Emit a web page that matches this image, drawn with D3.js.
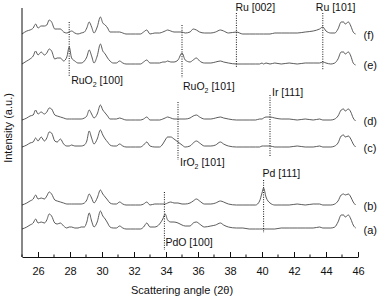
<!DOCTYPE html>
<html>
<head>
<meta charset="utf-8">
<script src="https://cdn.jsdelivr.net/npm/d3@7"></script>
<style>
  body { margin: 0; background: #fff; }
  svg text { font-family: "Liberation Sans", Arial, sans-serif; fill: #111; }
</style>
</head>
<body>
<div id="chart"></div>
<script>
// scattering angle grid, 2θ in degrees
var theta = [
  25.0, 25.3, 25.5, 25.7, 25.85, 26.0, 26.2, 26.4, 26.55, 26.7,
  26.85, 27.05, 27.2, 27.4, 27.6, 27.8, 27.95, 28.1, 28.3, 28.5,
  28.7, 28.9, 29.05, 29.2, 29.35, 29.5, 29.7, 29.9, 30.05, 30.2,
  30.35, 30.5, 30.7, 30.9, 31.1, 31.3, 31.5, 31.8, 32.1, 32.4,
  32.6, 32.8, 33.0, 33.3, 33.6, 33.8, 33.95, 34.1, 34.3, 34.5,
  34.75, 35.0, 35.2, 35.5, 35.7, 35.9, 36.1, 36.4, 36.8, 37.1,
  37.4, 37.6, 37.9, 38.4, 38.8, 39.2, 39.6, 39.85, 40.0, 40.1,
  40.25, 40.5, 40.8, 41.2, 41.7, 42.2, 42.7, 43.2, 43.6, 43.8,
  44.0, 44.3, 44.55, 44.75, 44.95, 45.1, 45.2, 45.4, 45.55, 45.7, 45.85
];

var seriesNames = ["(a)", "(b)", "(c)", "(d)", "(e)", "(f)"];
// vertical stacking offset of each pattern (a.u.)
var offsets = [28, 52, 110, 137, 193, 223];

// intensities above each pattern's own baseline (a.u.)
var seriesA = [
  0, 2, 4, 6, 10, 6, 7, 6, 9, 15,
  13, 6, 5, 6, 3, 1, 2, 2, 1, 1,
  2, 2, 7, 16, 8, 2, 7, 18, 13, 10,
  6, 2, 1, 1, 3, 1, 0, 0, 0, 0,
  2, 6, 2, 2, 5, 10, 15, 9, 7, 7,
  6, 4, 3, 3, 6, 7, 5, 2, 3, 4,
  6, 4, 2, 1, 1, 0, 0, 0, 0, 0,
  0, 0, 0, 1, 1, 1, 1, 1, 2, 1,
  1, 1, 2, 7, 14, 14, 12, 14, 10, 4, 1
];
var seriesB = [
  0, 2, 4, 6, 10, 6, 7, 6, 9, 13,
  11, 5, 4, 3, 2, 1, 1, 1, 1, 1,
  1, 2, 5, 11, 7, 2, 7, 15, 11, 8,
  5, 2, 1, 1, 3, 1, 0, 0, 0, 0,
  1, 3, 0, 1, 1, 1, 1, 2, 3, 2,
  2, 1, 1, 2, 4, 6, 4, 1, 1, 2,
  4, 3, 1, 0, 0, 0, 0, 4, 12, 17,
  8, 2, 0, 0, 0, 1, 0, 1, 1, 0,
  0, 0, 1, 4, 10, 11, 10, 11, 8, 3, 0
];
var seriesC = [
  0, 2, 4, 5, 9, 6, 10, 6, 9, 15,
  14, 6, 5, 8, 3, 1, 1, 2, 1, 1,
  1, 2, 6, 16, 9, 3, 8, 17, 12, 8,
  5, 2, 1, 1, 3, 1, 0, 0, 0, 0,
  2, 5, 1, 0, 0, 3, 7, 10, 10, 8,
  5, 2, 0, 1, 4, 6, 4, 1, 1, 2,
  5, 3, 1, 0, 0, 0, 0, 0, 1, 1,
  1, 1, 0, 0, 0, 1, 0, 0, 1, 0,
  0, 0, 1, 4, 11, 12, 10, 11, 8, 3, 0
];
var seriesD = [
  0, 2, 4, 5, 10, 6, 8, 6, 8, 12,
  11, 5, 4, 3, 2, 1, 1, 1, 1, 1,
  1, 2, 4, 10, 6, 2, 6, 15, 10, 7,
  4, 1, 1, 1, 2, 1, 0, 0, 0, 0,
  1, 3, 0, 0, 0, 1, 2, 3, 2, 1,
  1, 1, 1, 2, 4, 5, 3, 1, 1, 2,
  3, 2, 1, 0, 0, 0, 0, 1, 1, 2,
  3, 3, 2, 1, 1, 0, 1, 0, 1, 0,
  0, 0, 1, 4, 10, 11, 9, 11, 8, 2, -1
];
var seriesE = [
  0, 3, 5, 8, 13, 9, 12, 9, 11, 15,
  13, 5, 6, 6, 3, 7, 17, 6, 3, 1,
  1, 3, 7, 14, 8, 1, 8, 20, 13, 10,
  6, 3, 1, 1, 3, 1, 0, 0, 0, 0,
  2, 4, 1, 1, 1, 2, 2, 3, 2, 2,
  4, 11, 4, 2, 4, 6, 3, 1, 1, 2,
  3, 2, 1, 0, 0, 0, 0, 0, 1, 0,
  1, 0, 1, 0, 1, 0, 1, 1, 1, 2,
  1, 0, 1, 5, 12, 12, 10, 12, 8, 1, -1
];
var seriesF = [
  0, 3, 4, 6, 10, 6, 8, 8, 9, 14,
  12, 5, 5, 5, 2, 1, 2, 3, 1, 0,
  1, 2, 6, 12, 7, 1, 7, 17, 11, 9,
  6, 2, 2, 2, 2, 1, 0, 0, 0, 0,
  2, 4, 0, 1, 1, 2, 3, 4, 3, 2,
  2, 2, 1, 2, 5, 4, 2, 1, 1, 2,
  4, 3, 1, 2, 0, 0, 0, 0, 0, 0,
  0, 0, 1, 1, 1, 1, 2, 3, 5, 7,
  3, 1, 1, 5, 12, 12, 10, 12, 8, 2, 0
];
var allSeries = [seriesA, seriesB, seriesC, seriesD, seriesE, seriesF];

var xTicks = [26, 28, 30, 32, 34, 36, 38, 40, 42, 44, 46];

// reflection markers
var peakPhase = ["RuO", "RuO", "Ru", "Ru", "Ir", "IrO", "Pd", "PdO"];
var peakSub = ["2", "2", "", "", "", "2", "", ""];
var peakHkl = ["[100]", "[101]", "[002]", "[101]", "[111]", "[101]", "[111]", "[100]"];
var peakTheta = [27.95, 35.0, 38.4, 43.8, 40.5, 34.75, 40.1, 33.9];

// ---- layout ----
var W = 378, H = 299;
var margin = { top: 8, right: 20, bottom: 42, left: 22 };
var width = W - margin.left - margin.right,
    height = H - margin.top - margin.bottom;

// marker line extents and label placement, in a.u. / px offsets
var peakLayout = [
  { y1: 235, y2: 181, ly: 173, dx: 2 },
  { y1: 232, y2: 179, ly: 167, dx: 1 },
  { y1: 244, y2: 189, ly: 246, dx: -1 },
  { y1: 244, y2: 187, ly: 246, dx: -7 },
  { y1: 162, y2: 100, ly: 161, dx: 2 },
  { y1: 155, y2: 97,  ly: 91,  dx: 2 },
  { y1: 77,  y2: 24,  ly: 80,  dx: -1 },
  { y1: 65,  y2: 7,   ly: 11,  dx: 1 }
];

var svg = d3.select("#chart").append("svg")
    .attr("width", W)
    .attr("height", H)
  .append("g")
    .attr("transform", "translate(" + margin.left + "," + margin.top + ")");

var x = d3.scaleLinear().domain([25, 46]).range([0, width]);
var y = d3.scaleLinear().domain([0, height]).range([height, 0]);

var line = d3.line()
    .x(function(d) { return x(d[0]); })
    .y(function(d) { return y(d[1]); })
    .curve(d3.curveMonotoneX);

allSeries.forEach(function(vals, i) {
  var pts = theta.map(function(t, j) { return [t, offsets[i] + vals[j]]; });
  svg.append("path")
      .datum(pts)
      .attr("fill", "none")
      .attr("stroke", "#4a4a4a")
      .attr("stroke-width", 0.9)
      .attr("d", line);
  svg.append("text")
      .attr("x", x(theta[theta.length - 1]) + 8)
      .attr("y", y(offsets[i]) + 1)
      .attr("dy", "0.35em")
      .style("font-size", "11px")
      .text(seriesNames[i]);
});

// dotted reference lines + labels
peakTheta.forEach(function(t, i) {
  var L = peakLayout[i];
  svg.append("line")
      .attr("x1", x(t)).attr("x2", x(t))
      .attr("y1", y(L.y1)).attr("y2", y(L.y2))
      .attr("stroke", "#111")
      .attr("stroke-width", 1)
      .attr("stroke-dasharray", "1,1.4");
  var txt = svg.append("text")
      .attr("x", x(t) + L.dx)
      .attr("y", y(L.ly))
      .style("font-size", "10.5px");
  txt.append("tspan").text(peakPhase[i]);
  if (peakSub[i]) {
    txt.append("tspan")
        .attr("dy", "3")
        .style("font-size", "7px")
        .text(peakSub[i]);
    txt.append("tspan").attr("dy", "-3").text(" " + peakHkl[i]);
  } else {
    txt.append("tspan").text(" " + peakHkl[i]);
  }
});

// x axis: major ticks labelled, minor ticks between, ticks point inward
var xAxis = d3.axisBottom(x)
    .tickValues(xTicks)
    .tickSizeInner(-5)
    .tickSizeOuter(0)
    .tickPadding(10)
    .tickFormat(d3.format("d"));

var gx = svg.append("g")
    .attr("transform", "translate(0," + height + ")")
    .call(xAxis);
gx.select(".domain").attr("stroke", "#111");
gx.selectAll(".tick line").attr("stroke", "#111");
gx.selectAll(".tick text")
    .style("font-size", "11px")
    .style("font-family", "'Liberation Sans', Arial, sans-serif")
    .attr("fill", "#111");

var minor = d3.range(25, 46, 2);
gx.selectAll(".minor").data(minor).enter().append("line")
    .attr("class", "minor")
    .attr("x1", function(d) { return x(d); })
    .attr("x2", function(d) { return x(d); })
    .attr("y1", 0).attr("y2", -2.5)
    .attr("stroke", "#111");

// left axis line only
svg.append("line")
    .attr("x1", 0).attr("x2", 0)
    .attr("y1", 0).attr("y2", height)
    .attr("stroke", "#111");

svg.append("text")
    .attr("x", width / 2 - 8)
    .attr("y", height + 37)
    .attr("text-anchor", "middle")
    .style("font-size", "11px")
    .text("Scattering angle (2θ)");

svg.append("text")
    .attr("transform", "rotate(-90)")
    .attr("x", -120)
    .attr("y", -10)
    .attr("text-anchor", "middle")
    .style("font-size", "11px")
    .text("Intensity (a.u.)");
</script>
</body>
</html>
